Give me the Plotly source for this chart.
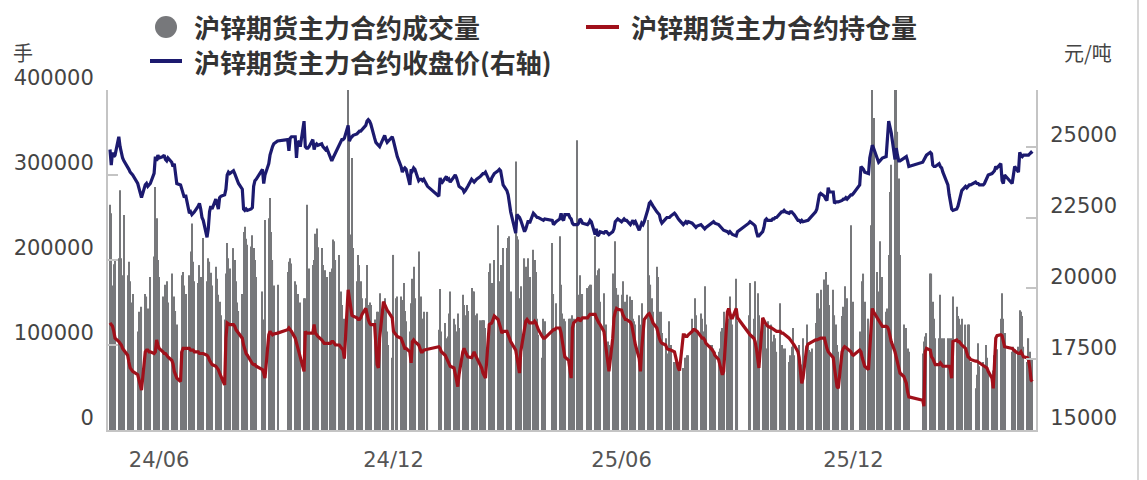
import pandas as pd
import plotly.graph_objects as go

N = None
# One row per week (Mon..Fri), first week starts 2024-05-20; None = exchange holiday
price = [
    24900, 24350, 24800, 24650, 24700,
    25350, 25000, 24750, 24600, 24500,
    24300, 24200, 24100, 24050, 24000,
    N, 23700, 23500, 23300, 23200,
    23650, 23700, 23600, 23650, 23700,
    24060, 24650, 24500, 24700, 24600,
    24650, 24700, 24550, 24500, 24600,
    24450, 24300, 24400, 24000, 23700,
    23650, 23500, 23300, 23200, 23300,
    22650, 22700, 22600, 22650, 22700,
    22900, 23000, 22800, 22500, 22400,
    21800, 22100, 22700, 22900, 22800,
    23150, 22900, 22800, 23200, 23250,
    23300, 23500, 24000, 24100, 24050,
    24150, 24050, 23950, 23800, 23700,
    23500, 22800, 22750, 22800, 22750,
    22800, 22850, 23600, 23800, 23850,
    N, N, 24200, 23700, 24000,
    24400, 24700, 24900, 25000, 25100,
    25200, N, N, N, N,
    N, 25250, 24850, 25300, 25350,
    25350, 24600, 25200, 25150, 25000,
    25900, 25000, 24950, 24950, 25000,
    25250, 24900, 25050, 25100, 25050,
    25100, 25000, 24950, 24900, 24950,
    24550, 24500, 24600, 24700, 24800,
    25100, 25200, 25250, 25250, 25300,
    25750, 25200, 25300, 25350, 25400,
    25450, 25500, 25550, 25550, 25600,
    25750, 25900, 25950, 25900, 25800,
    25300, 25150, 25100, 25050, 25000,
    25300, 25400, 25250, 25150, 25200,
    25350, 25200, N, 24800, 24650,
    24300, 24100, 24200, 24250, 24200,
    23650, 24200, 24150, 24250, 24200,
    23800, 23850, 23850, 23800, 23850,
    23600, N, N, N, N,
    N, N, 23250, 23900, 23700,
    23900, 23950, 23800, 23850, 23750,
    23950, 24000, 23900, 23700, 23600,
    23500, 23400, 23450, 23550, 23600,
    23850, 23800, 23750, 23800, 23850,
    23950, 24000, 24050, 24050, 24100,
    23800, 23750, 23900, 24000, 24050,
    24150, 24200, 24150, 23900, 23650,
    23450, 23300, 23000, 22700, N,
    21950, 22600, 22550, 22500, 22400,
    22000, 22100, 22300, 22400, 22300,
    22650, 22600, 22550, 22500, 22500,
    22400, 22400, 22450, N, N,
    N, 22400, 22250, 22300, 22350,
    22450, 22650, 22450, 22400, 22600,
    22600, 22500, 22450, 22300, 22250,
    22250, 22300, 22450, 22400, 22300,
    N, 22250, 22300, 22400, 22350,
    21900, 22100, 21850, 21900, 22000,
    21950, 22000, 22000, 21950, 21900,
    22000, 22100, 22350, 22400, 22450,
    22350, 22400, 22450, 22400, 22400,
    22250, 22350, 22400, 22300, 22350,
    22050, 22150, 22300, 22250, 22350,
    22800, 23000, 23050, 22950, 22900,
    22700, 22650, 22600, 22400, 22300,
    22450, 22500, 22500, 22500, 22550,
    22650, 22600, 22500, 22450, 22400,
    22250, 22300, 22350, 22300, 22350,
    22300, 22250, 22200, 22150, 22200,
    22250, 22200, 22150, 22100, 22150,
    22250, 22300, 22300, 22350, 22300,
    22250, 22200, 22150, 22100, 22050,
    22000, 21950, 22000, 21950, 21900,
    21850, 22000, N, N, N,
    N, N, N, 22300, 22350,
    22250, 22200, 22000, 21850, 21850,
    22000, 22150, 22400, 22450, 22400,
    22400, 22450, 22450, 22500, 22500,
    22650, 22700, 22700, 22750, 22700,
    22650, 22700, 22700, 22650, 22600,
    22400, 22400, 22350, 22400, 22350,
    22400, 22400, 22450, 22500, 22550,
    22700, 22800, 23100, 23300, 23350,
    23250, 23150, 23100, 23550, 23400,
    23400, 23000, 23050, 23050, 23050,
    23100, 23150, 23150, 23200, 23150,
    23300, 23300, 23350, N, N,
    23650, 24300, 24250, 24200, 24100,
    24050, 24600, 24850, 25050, 24950,
    24600, 24450, 24500, 24550, 24600,
    24650, 25400, 25900, 25700, 25500,
    24550, 24950, 24700, 24500, 24500,
    24600, 24650, 24650, 24500, 24300,
    N, N, N, N, N,
    N, 24450, 24550, 24600, 24700,
    24800, 24750, 24350, 24300, 24300,
    24400, 24300, 24250, 24100, 24000,
    23650, 23300, 23000, 22800, 22750,
    22800, 22900, 23100, 23300, 23450,
    23600, 23550, 23600, 23650, 23650,
    N, 23750, 23700, 23700, 23650,
    23650, 23700, 23800, 23900, 24000,
    24050, 24100, 24150, 24300, 24250,
    24400, 23800, 23700, 24000, N,
    N, N, 23700, 24000, 24300,
    24100, 24800, 24700, 24650, 24700,
    24700, 24700, 24750, 24800, 24750,
]

open_interest = [
    126000, 124000, 122000, 116000, 108000,
    104000, 102000, 100000, 96000, 94000,
    88000, 80000, 73000, 71000, 69000,
    N, 65000, 59000, 53000, 47000,
    92000, 94000, 94000, 92000, 92000,
    90000, 92000, 106000, 100000, 96000,
    92000, 90000, 90000, 88000, 86000,
    82000, 78000, 69000, 65000, 61000,
    57000, 92000, 96000, 96000, 96000,
    96000, 94000, 94000, 94000, 92000,
    92000, 90000, 90000, 90000, 90000,
    88000, 86000, 82000, 80000, 77000,
    75000, 73000, 71000, 67000, 63000,
    53000, 108000, 126000, 125000, 124000,
    124000, 122000, 118000, 116000, 114000,
    108000, 100000, 94000, 90000, 88000,
    80000, 78000, 77000, 77000, 75000,
    N, N, 71000, 67000, 61000,
    112000, 116000, 114000, 112000, 113000,
    114000, N, N, N, N,
    N, 118000, 120000, 118000, 116000,
    108000, 102000, 96000, 92000, 84000,
    69000, 116000, 114000, 114000, 114000,
    114000, 124000, 114000, 112000, 110000,
    106000, 104000, 102000, 102000, 102000,
    102000, 104000, 104000, 102000, 100000,
    100000, 98000, 96000, 94000, 84000,
    165000, 155000, 145000, 135000, 134000,
    132000, 130000, 130000, 132000, 136000,
    143000, 134000, 130000, 126000, 124000,
    124000, 100000, 77000, 73000, 108000,
    151000, 147000, 143000, 141000, 139000,
    132000, 116000, N, 112000, 110000,
    108000, 104000, 98000, 96000, 96000,
    92000, 79000, 104000, 106000, 104000,
    100000, 96000, 92000, 92000, 94000,
    95000, N, N, N, N,
    N, N, 98000, 96000, 92000,
    88000, 85000, 81000, 79000, 75000,
    73000, 67000, 59000, 51000, 65000,
    92000, 96000, 92000, 88000, 86000,
    85000, 88000, 92000, 88000, 85000,
    77000, 73000, 67000, 63000, 61000,
    124000, 125000, 126000, 130000, 134000,
    130000, 126000, 120000, 114000, 116000,
    116000, 112000, 108000, 104000, N,
    94000, 86000, 75000, 67000, 92000,
    120000, 128000, 130000, 128000, 126000,
    126000, 128000, 126000, 122000, 118000,
    110000, 108000, 108000, N, N,
    N, 116000, 118000, 118000, 120000,
    120000, 114000, 104000, 92000, 86000,
    82000, 73000, 61000, 120000, 126000,
    130000, 132000, 128000, 130000, 132000,
    N, 132000, 134000, 136000, 136000,
    136000, 132000, 128000, 126000, 124000,
    116000, 104000, 92000, 81000, 69000,
    108000, 132000, 139000, 143000, 142000,
    141000, 136000, 132000, 130000, 130000,
    127000, 124000, 116000, 108000, 100000,
    84000, 69000, 96000, 120000, 130000,
    136000, 137000, 134000, 130000, 126000,
    120000, 112000, 108000, 104000, 102000,
    100000, 96000, 95000, 94000, 94000,
    92000, 85000, 79000, 73000, 70000,
    112000, 112000, 110000, 110000, 112000,
    116000, 118000, 118000, 117000, 116000,
    110000, 108000, 108000, 106000, 102000,
    98000, 96000, 94000, 92000, 88000,
    83000, 77000, 71000, 65000, 69000,
    139000, 143000, 135000, 132000, 132000,
    143000, 132000, N, N, N,
    N, N, N, 114000, 112000,
    108000, 104000, 96000, 85000, 73000,
    132000, 128000, 126000, 124000, 122000,
    120000, 119000, 118000, 118000, 116000,
    116000, 114000, 114000, 113000, 112000,
    108000, 106000, 104000, 102000, 100000,
    92000, 85000, 69000, 55000, 61000,
    98000, 101000, 102000, 103000, 104000,
    106000, 106000, 107000, 108000, 108000,
    108000, 100000, 96000, 92000, 90000,
    85000, 73000, 61000, 51000, 49000,
    92000, 96000, 98000, 97000, 96000,
    92000, 89000, 88000, N, N,
    94000, 92000, 85000, 79000, 75000,
    71000, 96000, 124000, 143000, 139000,
    132000, 128000, 126000, 124000, 122000,
    122000, 121000, 118000, 112000, 104000,
    92000, 85000, 79000, 73000, 67000,
    63000, 59000, 55000, 45000, 39000,
    N, N, N, N, N,
    N, 35000, 28000, 92000, 96000,
    94000, 86000, 84000, 81000, 77000,
    77000, 79000, 77000, 75000, 75000,
    75000, 75000, 71000, 61000, 104000,
    106000, 104000, 104000, 102000, 100000,
    96000, 92000, 86000, 85000, 83000,
    N, 81000, 81000, 80000, 79000,
    77000, 76000, 75000, 73000, 69000,
    61000, 49000, 92000, 108000, 111000,
    112000, 111000, 104000, 98000, N,
    N, N, 96000, 94000, 93000,
    90000, 90000, 92000, 88000, 86000,
    85000, 83000, 73000, 59000, 57000,
]

volume = [
    265000, 255000, 170000, 195000, 200000,
    202000, 282000, 202000, 182000, 253000,
    182000, 198000, 175000, 150000, 160000,
    N, 116000, 139000, 116000, 145000,
    160000, 157000, 143000, 120000, 180000,
    204000, 286000, 249000, 200000, 180000,
    157000, 145000, 171000, 175000, 150000,
    184000, 131000, 157000, 140000, 124000,
    92000, 182000, 186000, 170000, 160000,
    182000, 210000, 243000, 198000, 175000,
    173000, 194000, 180000, 171000, 226000,
    175000, 202000, 198000, 185000, 170000,
    192000, 178000, 159000, 151000, 135000,
    130000, 184000, 220000, 202000, 190000,
    214000, 200000, 175000, 150000, 140000,
    160000, 233000, 239000, 225000, 218000,
    216000, 229000, 214000, 200000, 180000,
    N, N, 163000, 130000, 247000,
    249000, 273000, 233000, 200000, 170000,
    171000, N, N, N, N,
    N, 186000, 198000, 202000, 196000,
    175000, 171000, 160000, 147000, 150000,
    155000, 155000, 265000, 186000, 190000,
    194000, 200000, 231000, 237000, 215000,
    214000, 194000, 178000, 188000, 180000,
    186000, 190000, 224000, 222000, 200000,
    206000, 163000, 147000, 120000, 131000,
    420000, 340000, 230000, 320000, 214000,
    175000, 206000, 194000, 175000, 155000,
    155000, 194000, 147000, 150000, 147000,
    130000, 108000, 139000, 139000, 161000,
    151000, 155000, 140000, 116000, 100000,
    85000, 206000, N, 155000, 157000,
    157000, 153000, 173000, 140000, 128000,
    116000, 149000, 178000, 192000, 155000,
    210000, 145000, 157000, 131000, 139000,
    139000, N, N, N, N,
    N, N, 118000, 166000, 116000,
    126000, 108000, 110000, 137000, 163000,
    131000, 124000, 116000, 137000, 120000,
    159000, 147000, 135000, 147000, 140000,
    167000, 163000, 163000, 135000, 137000,
    129000, 129000, 129000, 129000, 120000,
    186000, 196000, 173000, 173000, 200000,
    241000, 175000, 194000, 192000, 214000,
    214000, 226000, 228000, 163000, N,
    316000, 228000, 224000, 155000, 169000,
    202000, 192000, 171000, 202000, 180000,
    212000, 200000, 186000, 131000, 112000,
    85000, 131000, 128000, N, N,
    N, 220000, 160000, 120000, 149000,
    228000, 171000, 137000, 131000, 128000,
    131000, 131000, 131000, 135000, 131000,
    341000, 159000, 182000, 155000, 160000,
    N, 167000, 169000, 171000, 171000,
    228000, 182000, 188000, 190000, 151000,
    161000, 112000, 124000, 104000, 100000,
    184000, 167000, 222000, 167000, 159000,
    159000, 175000, 147000, 151000, 159000,
    157000, 153000, 131000, 128000, 124000,
    135000, 124000, 149000, 131000, 131000,
    247000, 182000, 171000, 155000, 139000,
    192000, 180000, 139000, 139000, 114000,
    108000, 90000, 88000, 128000, 100000,
    80000, 80000, 69000, 80000, 75000,
    73000, 85000, 85000, 88000, 88000,
    131000, 116000, 155000, 135000, 116000,
    137000, 131000, 116000, 169000, 124000,
    100000, 92000, 100000, 96000, 92000,
    92000, 96000, 116000, 120000, 139000,
    131000, 131000, 157000, 134000, 124000,
    178000, 128000, N, N, N,
    N, N, N, 135000, 173000,
    131000, 175000, 92000, 161000, 135000,
    131000, 116000, 124000, 96000, 128000,
    124000, 104000, 112000, 108000, 92000,
    149000, 100000, 96000, 92000, 96000,
    80000, 88000, 98000, 120000, 88000,
    92000, 100000, 65000, 77000, 108000,
    124000, 100000, 94000, 92000, 96000,
    126000, 161000, 161000, 143000, 165000,
    177000, 186000, 128000, 171000, 147000,
    165000, 135000, 124000, 100000, 92000,
    134000, 145000, 169000, 147000, 155000,
    241000, 147000, 151000, N, N,
    116000, 100000, 175000, 184000, 151000,
    131000, 112000, 241000, 420000, 367000,
    186000, 163000, 222000, 131000, 180000,
    139000, 143000, 206000, 280000, 312000,
    420000, 420000, 351000, 296000, 206000,
    124000, 96000, 120000, 96000, 92000,
    N, N, N, N, N,
    N, 90000, 104000, 110000, 114000,
    184000, 184000, 151000, 131000, 108000,
    108000, 159000, 108000, 95000, 108000,
    108000, 88000, 108000, 108000, 157000,
    145000, 134000, 131000, 124000, 131000,
    124000, 95000, 124000, 124000, 80000,
    N, 49000, 65000, 102000, 75000,
    80000, 75000, 100000, 85000, 70000,
    55000, 70000, 88000, 88000, 95000,
    131000, 161000, 131000, 114000, N,
    N, N, 92000, 98000, 95000,
    98000, 141000, 139000, 134000, 98000,
    80000, 108000, 92000, 80000, 83000,
]

left_ticks = [0, 100000, 200000, 300000, 400000]
right_ticks = [15000, 17500, 20000, 22500, 25000, 27000]
right_ticktext = ["15000", "17500", "20000", "22500", "25000", ""]
x_tickvals = ["2024-06-28", "2024-12-31", "2025-06-30", "2025-12-31"]
x_ticktext = ["24/06", "24/12", "25/06", "25/12"]

name_vol = "沪锌期货主力合约成交量"
name_oi = "沪锌期货主力合约持仓量"
name_px = "沪锌期货主力合约收盘价(右轴)"

n = min(len(price), len(open_interest), len(volume))
dates = pd.bdate_range("2024-05-20", periods=n)

GRAY = "#77787b"
RED = "#a0101a"
BLUE = "#1c1a6f"

fig = go.Figure()
fig.add_trace(go.Bar(x=dates, y=volume[:n], marker=dict(color=GRAY, line=dict(width=0)),
                     name=name_vol, yaxis="y"))
fig.add_trace(go.Scatter(x=dates, y=open_interest[:n], mode="lines", connectgaps=True,
                         line=dict(color=RED, width=3.2), name=name_oi, yaxis="y"))
fig.add_trace(go.Scatter(x=dates, y=price[:n], mode="lines", connectgaps=True,
                         line=dict(color=BLUE, width=3.2), name=name_px, yaxis="y2"))

W, H = 1147, 480
L, R, T, B = 108, 111, 90, 50
pw, ph = W - L - R, H - T - B


def px(x):
    return (x - L) / pw


def py(y):
    return (H - B - y) / ph


tickfont = dict(family="DejaVu Sans", size=21, color="#444444")
AX = "#c4c4c4"

fig.update_layout(
    width=W, height=H,
    margin=dict(l=L, r=R, t=T, b=B, pad=0, autoexpand=False),
    paper_bgcolor="white", plot_bgcolor="white",
    showlegend=False, bargap=0.12,
    xaxis=dict(type="date", range=["2024-05-18 10:00", "2026-05-24 22:00"],
               tickmode="array", tickvals=x_tickvals, ticktext=x_ticktext, automargin=False,
               showgrid=False, zeroline=False, showline=True, linecolor=AX, linewidth=2,
               ticks="", tickfont=dict(family="DejaVu Sans", size=21, color="#555555"),
               ticklabelstandoff=10),
    yaxis=dict(range=[0, 400000], tickmode="array", tickvals=left_ticks,
               ticktext=[str(v) for v in left_ticks], automargin=False,
               showgrid=False, zeroline=False, showline=True, linecolor=AX, linewidth=2,
               ticks="inside", ticklen=10, tickwidth=2, tickcolor=AX,
               tickfont=tickfont, ticklabelshift=-12, ticklabelstandoff=8),
    yaxis2=dict(range=[15000, 27000], overlaying="y", side="right", tickmode="array",
                tickvals=right_ticks, ticktext=right_ticktext, automargin=False,
                showgrid=False, zeroline=False, showline=True, linecolor=AX, linewidth=2,
                ticks="inside", ticklen=10, tickwidth=2, tickcolor=AX,
                tickfont=tickfont, ticklabelshift=-12, ticklabelstandoff=8),
)

cjk = dict(family="Noto Sans CJK SC", size=26, color="#333333")
shapes = [
    dict(type="circle", xref="paper", yref="paper", x0=px(155), x1=px(177), y0=py(38), y1=py(16),
         fillcolor=GRAY, line=dict(width=0)),
    dict(type="line", xref="paper", yref="paper", x0=px(586), x1=px(619), y0=py(27), y1=py(27),
         line=dict(color=RED, width=4)),
    dict(type="line", xref="paper", yref="paper", x0=px(150), x1=px(182), y0=py(61), y1=py(61),
         line=dict(color=BLUE, width=4)),
    dict(type="line", xref="paper", yref="paper", x0=px(1138), x1=px(1138), y0=py(480), y1=py(0),
         line=dict(color="#d6d6d6", width=2)),
]
annotations = [
    dict(xref="paper", yref="paper", x=px(192), y=py(26), xanchor="left", yanchor="middle",
         text="<b>" + name_vol + "</b>", showarrow=False, font=cjk, height=31),
    dict(xref="paper", yref="paper", x=px(629), y=py(26), xanchor="left", yanchor="middle",
         text="<b>" + name_oi + "</b>", showarrow=False, font=cjk, height=31),
    dict(xref="paper", yref="paper", x=px(192), y=py(61), xanchor="left", yanchor="middle",
         text="<b>" + name_px + "</b>", showarrow=False, font=cjk, height=31),
    dict(xref="paper", yref="paper", x=px(23), y=py(53), xanchor="center", yanchor="middle",
         text="手", showarrow=False, font=dict(family="Noto Sans CJK SC", size=20, color="#444444")),
    dict(xref="paper", yref="paper", x=px(1088), y=py(53), xanchor="center", yanchor="middle",
         text="元/吨", showarrow=False, font=dict(family="Noto Sans CJK SC", size=20, color="#444444")),
]
fig.update_layout(shapes=shapes, annotations=annotations)

fig.write_html("out.html", config={"displayModeBar": False},
               post_script="document.body.style.margin='0';document.body.style.overflow='hidden';")
